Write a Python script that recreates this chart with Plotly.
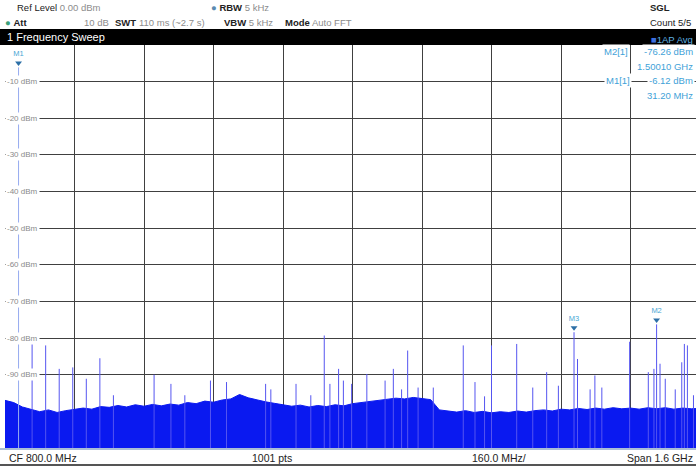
import plotly.graph_objects as go

# Noise floor, every 20 MHz (dBm)
floor_freq = list(range(0, 1601, 20))
floor_level = [-97.0, -97.6, -98.8, -99.4, -100.1, -99.6, -100.3, -99.8, -99.5, -99.1,
               -99.4, -98.7, -98.9, -98.4, -98.8, -98.2, -98.6, -98.1, -98.5, -98.0,
               -98.3, -97.6, -97.9, -97.2, -97.5, -96.9, -96.6, -95.4, -96.3, -96.9,
               -97.4, -97.8, -98.2, -98.6, -98.3, -98.8, -98.4, -98.7, -98.2, -98.5,
               -97.9, -97.6, -97.2, -97.0, -96.7, -96.4, -96.6, -96.2, -96.5, -96.8,
               -99.6, -99.9, -100.2, -99.8, -100.3, -100.0, -100.4, -100.1, -100.3, -99.9,
               -100.2, -99.8, -99.6, -99.9, -99.4, -99.6, -99.2, -99.5, -99.1, -99.4,
               -99.0, -99.3, -99.1, -99.4, -99.0, -99.3, -99.0, -99.4, -99.1, -99.3, -99.2]

# Spurs (MHz, dBm)
spur_freq = [62.4, 93.6, 124.8, 156.0, 187.2, 218.4, 249.6, 343.2, 382, 414, 473, 510,
             600, 612, 670, 704, 735, 748, 768, 779, 798, 833, 875, 894, 913, 927, 951,
             986, 1055, 1082, 1104, 1120, 1178, 1215, 1247, 1274, 1318, 1347, 1358, 1374,
             1438, 1481, 1494, 1508, 1520, 1543, 1558, 1564, 1571, 1585]
spur_level = [-80.7, -82.0, -88.4, -88.0, -91.1, -85.5, -95.6, -90.0, -92.5, -95.6, -91.6, -92.0,
              -92.5, -94.0, -92.5, -95.6, -79.3, -92.5, -88.4, -91.6, -92.5, -89.8, -91.6, -88.4,
              -94.0, -83.4, -93.5, -93.5, -82.0, -92.0, -95.9, -82.0, -81.6, -93.5, -89.3, -93.0,
              -85.7, -94.0, -90.2, -93.5, -81.0, -89.3, -88.4, -87.0, -91.1, -94.0, -86.6, -81.6,
              -82.0, -95.6]

# Markers
marker_names = ["M1", "M2", "M3"]
marker_freq = [31.2, 1500.1, 1310.0]
marker_level = [-6.12, -76.26, -78.4]

y_ticks = [-10, -20, -30, -40, -50, -60, -70, -80, -90]
x_grid = [160, 320, 480, 640, 800, 960, 1120, 1280, 1440]

Y_MIN = -110
FONT = "Liberation Sans, Arial, sans-serif"


def px(x):
    return (x - 5) / 691


def py(y):
    return (448 - y) / 403


fig = go.Figure()

# baseline + noise floor fill
fig.add_trace(go.Scatter(x=[0, 1600], y=[Y_MIN, Y_MIN], mode="lines",
                         line=dict(width=0, color="rgb(10,25,240)"), hoverinfo="skip"))
fig.add_trace(go.Scatter(x=floor_freq, y=floor_level, mode="lines", fill="tonexty",
                         fillcolor="rgb(10,25,240)", line=dict(width=1, color="rgb(10,25,240)")))

# spurs
sx, sy = [], []
for f, l in zip(spur_freq + marker_freq[1:], spur_level + marker_level[1:]):
    sx += [f, f, None]
    sy += [Y_MIN, l, None]
fig.add_trace(go.Scatter(x=sx, y=sy, mode="lines", line=dict(width=1, color="rgb(85,85,240)")))

# main signal
fig.add_trace(go.Scatter(x=[marker_freq[0], marker_freq[0]], y=[Y_MIN, marker_level[0]],
                         mode="lines", line=dict(width=1, color="rgb(150,170,240)")))

# marker triangles
fig.add_trace(go.Scatter(x=marker_freq, y=[l + 1.2 for l in marker_level], mode="markers+text",
                         marker=dict(symbol="triangle-down", size=6, color="#2c6fa6"),
                         text=marker_names, textposition="top center",
                         textfont=dict(family=FONT, size=7.5, color="#49a6d4")))

ann = []
for v in y_ticks:
    ann.append(dict(x=px(5), y=v, xref="paper", yref="y", text=f"{v} dBm", showarrow=False,
                    xanchor="left", yanchor="middle", bgcolor="white", borderpad=1,
                    font=dict(family=FONT, size=8, color="#8a8a8a")))


def label(x, y, text, size=9.5, color="#222", anchor="left", bg=None):
    ann.append(dict(x=px(x), y=py(y), xref="paper", yref="paper", text=text, showarrow=False,
                    xanchor=anchor, yanchor="middle", bgcolor=bg, borderpad=1,
                    font=dict(family=FONT, size=size, color=color)))


gray = "#8c8c8c"
label(15, 7, f"Ref Level <span style='color:{gray}'>0.00 dBm</span>")
label(3, 22, "<span style='color:#3aa07a'>●</span> <b>Att</b>")
label(82, 22, "10 dB", color=gray)
label(113, 22, "<b>SWT</b>")
label(137, 22, "110 ms (~2.7 s)", color=gray)
label(209, 7, f"<span style='color:#5a8ab0'>●</span> <b>RBW</b> <span style='color:{gray}'>5 kHz</span>")
label(222, 22, f"<b>VBW</b> <span style='color:{gray}'>5 kHz</span>")
label(283, 22, f"<b>Mode</b> <span style='color:{gray}'>Auto FFT</span>")
label(648, 7, "<b>SGL</b>")
label(648, 22, "Count 5/5")
label(5, 37, "1 Frequency Sweep", size=11, color="white")
label(695, 39, "<span style='color:#3a6fe0'>■</span>1AP Avg", size=9.5, color="#5fb0e0", anchor="right")

mk = "#3fa2d8"
label(602, 51, "M2[1]", color=mk, bg="white")
label(695, 51, "-76.26 dBm", color=mk, anchor="right", bg="white")
label(695, 66, "1.50010 GHz", color=mk, anchor="right", bg="white")
label(604, 81, "M1[1]", color=mk, bg="white")
label(695, 81, "-6.12 dBm", color=mk, anchor="right", bg="white")
label(695, 96, "31.20 MHz", color=mk, anchor="right", bg="white")

label(7, 458, "CF 800.0 MHz", size=10.5)
label(250, 458, "1001 pts", size=10.5)
label(470, 458, "160.0 MHz/", size=10.5)
label(695, 458, "Span 1.6 GHz", size=10.5, anchor="right")

shapes = [
    dict(type="rect", xref="paper", yref="paper", x0=px(0), x1=px(700), y0=py(45), y1=py(29),
         fillcolor="black", line=dict(width=0), layer="below"),
    dict(type="line", xref="paper", yref="paper", x0=px(0), x1=px(700), y0=py(449), y1=py(449),
         line=dict(width=1.5, color="#8fa8c8")),
    dict(type="line", xref="paper", yref="paper", x0=px(0), x1=px(700), y0=py(465), y1=py(465),
         line=dict(width=2, color="#555")),
]

fig.update_layout(
    width=696, height=467,
    margin=dict(l=5, r=0, t=45, b=19),
    paper_bgcolor="white", plot_bgcolor="white",
    showlegend=False,
    xaxis=dict(range=[0, 1590.8], tickvals=x_grid, showticklabels=False, showgrid=True,
               gridcolor="#404040", gridwidth=1, zeroline=False, showline=False),
    yaxis=dict(range=[Y_MIN, 0], tickvals=y_ticks, showticklabels=False, showgrid=True,
               gridcolor="#404040", gridwidth=1, zeroline=False, showline=False),
    annotations=ann,
    shapes=shapes,
)

fig.write_html("out.html", config={"displayModeBar": False},
               post_script="document.body.style.margin='0';")
